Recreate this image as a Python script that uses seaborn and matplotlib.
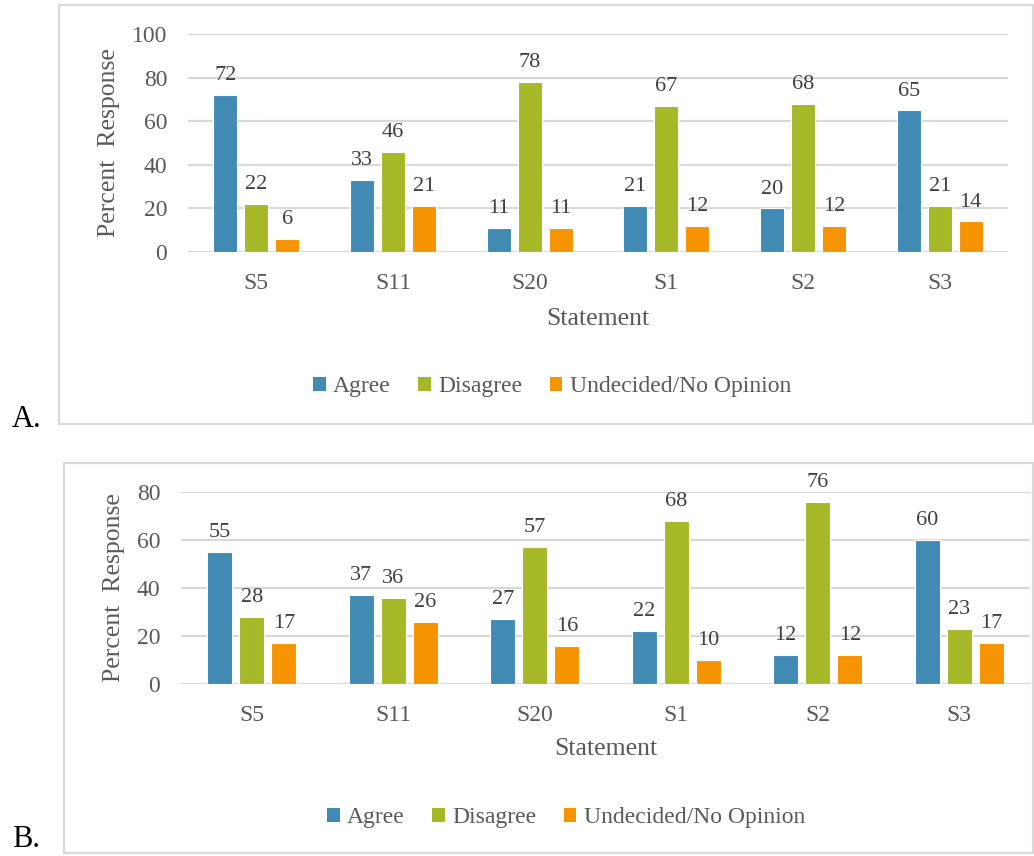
import matplotlib
matplotlib.use("Agg")
import matplotlib.pyplot as plt
from matplotlib.patches import Rectangle
import pandas as pd
import seaborn as sns

# Survey results, percent of respondents per statement
statements = ["S5", "S11", "S20", "S1", "S2", "S3"]
responses = ["Agree", "Disagree", "Undecided/No Opinion"]

agree_a = [72, 33, 11, 21, 20, 65]
disagree_a = [22, 46, 78, 67, 68, 21]
undecided_a = [6, 21, 11, 12, 12, 14]

agree_b = [55, 37, 27, 22, 12, 60]
disagree_b = [28, 36, 57, 68, 76, 23]
undecided_b = [17, 26, 16, 10, 12, 17]

yticks_a = [0, 20, 40, 60, 80, 100]
yticks_b = [0, 20, 40, 60, 80]

colors = ["#418AB3", "#A6B727", "#F59300"]

sns.set_theme(style="white")
plt.rcParams["font.family"] = ["Liberation Serif", "DejaVu Serif"]

TICK_C = "#595959"
LABEL_C = "#404040"
GRID_C = "#D9D9D9"

W, H = 1034, 856
fig = plt.figure(figsize=(W / 100, H / 100), dpi=100)


def long_frame(agree, disagree, undecided):
    rows = []
    for name, vals in zip(responses, [agree, disagree, undecided]):
        for s, v in zip(statements, vals):
            rows.append({"Statement": s, "Response": name, "Percent": v})
    return pd.DataFrame(rows)


def px_axes(x0, x1, y_top, y_bot):
    return fig.add_axes([x0 / W, 1 - y_bot / H, (x1 - x0) / W, (y_bot - y_top) / H])


def panel_box(x0, y0, x1, y1):
    fig.patches.append(Rectangle((x0 / W, 1 - y1 / H), (x1 - x0) / W, (y1 - y0) / H,
                                 transform=fig.transFigure, fill=False,
                                 edgecolor=GRID_C, linewidth=1.6, zorder=0))


def draw_panel(ax, df, yticks, ylab_x, xlab_y, legend_xy):
    sns.barplot(data=df, x="Statement", y="Percent", hue="Response",
                order=statements, hue_order=responses, palette=colors,
                saturation=1, width=0.68, gap=0.23, edgecolor="white",
                linewidth=0.8, ax=ax, legend=True, zorder=3)
    for cont in ax.containers:
        ax.bar_label(cont, fmt="%d", padding=7, fontsize=16, color=LABEL_C)
    ax.set_ylim(yticks[0], yticks[-1])
    ax.set_yticks(yticks)
    ax.set_xlim(-0.5, len(statements) - 0.5)
    ax.yaxis.grid(True, color=GRID_C, linewidth=1.6, zorder=0)
    ax.set_axisbelow(True)
    for sp in ax.spines.values():
        sp.set_visible(False)
    ax.tick_params(axis="y", length=0, pad=15, labelsize=17, labelcolor=TICK_C)
    ax.tick_params(axis="x", length=0, pad=15, labelsize=17, labelcolor=TICK_C)
    ax.set_ylabel("Percent  Response", fontsize=18.5, color=TICK_C)
    ax.yaxis.label.set(va="center", ha="center", rotation_mode="default")
    ax.yaxis.set_label_coords(ylab_x, 0.5)
    ax.set_xlabel("Statement", fontsize=18.5, color=TICK_C)
    ax.xaxis.label.set(va="center", ha="center")
    ax.xaxis.set_label_coords(0.5, xlab_y)
    handles, labels = ax.get_legend_handles_labels()
    ax.get_legend().remove()
    leg = fig.legend(handles, labels, loc="center",
                     bbox_to_anchor=(legend_xy[0] / W, 1 - legend_xy[1] / H),
                     ncol=3, frameon=False, fontsize=17,
                     handlelength=0.55, handleheight=0.55, handletextpad=0.3,
                     columnspacing=1.15, borderaxespad=0)
    for t in leg.get_texts():
        t.set_color(TICK_C)
    for hd in leg.legend_handles:
        hd.set_edgecolor("none")


# Panel A
panel_box(59, 5, 1033, 424)
ax_a = px_axes(188, 1008, 34, 252)
draw_panel(ax_a, long_frame(agree_a, disagree_a, undecided_a), yticks_a,
           ylab_x=(109 - 188) / 820, xlab_y=(252 - 319) / 218,
           legend_xy=(552, 387))

# Panel B
panel_box(64, 463, 1033, 853)
ax_b = px_axes(181, 1030, 492, 684)
draw_panel(ax_b, long_frame(agree_b, disagree_b, undecided_b), yticks_b,
           ylab_x=(114 - 181) / 849, xlab_y=(684 - 749) / 192,
           legend_xy=(566, 818))

fig.text(12 / W, 1 - 427 / H, "A.", fontsize=22, color="black", va="baseline")
fig.text(12 / W, 1 - 847 / H, "B.", fontsize=22, color="black", va="baseline")

fig.savefig("out.png", dpi=100, facecolor="white")
